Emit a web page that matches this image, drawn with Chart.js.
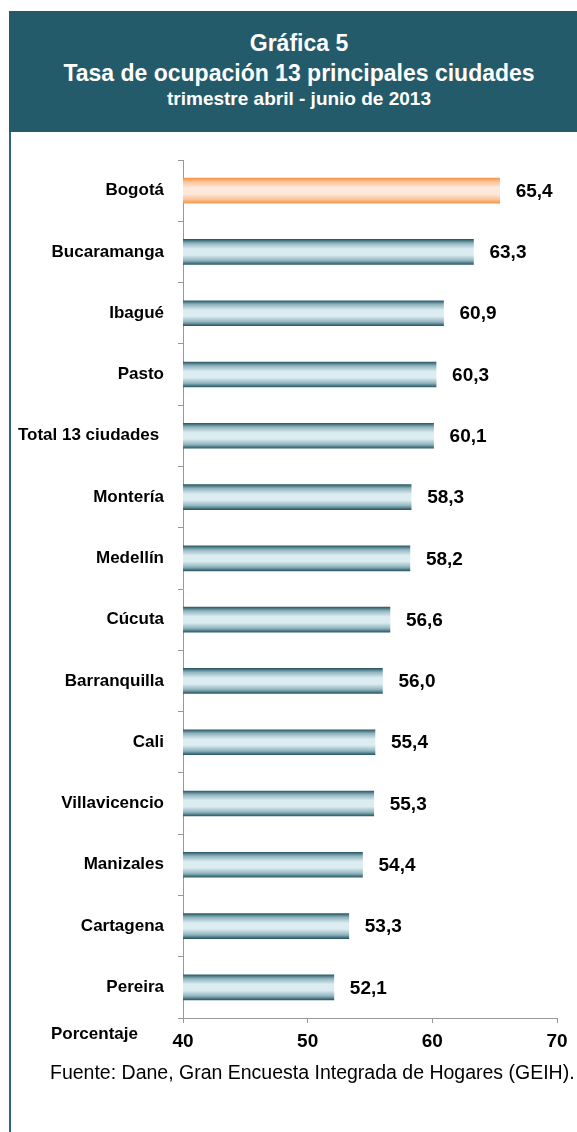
<!DOCTYPE html>
<html>
<head>
<meta charset="utf-8">
<script src="https://cdn.jsdelivr.net/npm/chart.js@4/dist/chart.umd.min.js"></script>
<style>
  body { margin: 0; background: #fff; font-family: "Liberation Sans", Arial, sans-serif; }
  #cabecera { position: absolute; left: 9px; top: 11px; width: 568px; height: 121px; background: #245b6a; color: #fff; text-align: center; font-weight: bold; }
  #cabecera div { position: absolute; left: 12px; right: 0; white-space: nowrap; }
  #cabecera .l1 { top: 19px; font-size: 23px; }
  #cabecera .l2 { top: 49px; font-size: 23px; }
  #cabecera .l3 { top: 77px; font-size: 19px; }
  #borde { position: absolute; left: 9px; top: 132px; width: 2px; height: 1000px; background: #2e6878; }
  #caja { position: absolute; left: 0; top: 132px; width: 577px; height: 1000px; }
  #porcentaje { position: absolute; left: 51px; top: 1024px; font-size: 17px; font-weight: bold; }
  #fuente { position: absolute; left: 50px; top: 1061px; font-size: 19.5px; white-space: nowrap; }
</style>
</head>
<body>
<div id="cabecera">
  <div class="l1">Gráfica 5</div>
  <div class="l2">Tasa de ocupación 13 principales ciudades</div>
  <div class="l3">trimestre abril - junio de 2013</div>
</div>
<div id="borde"></div>
<div id="caja"><canvas id="grafica"></canvas></div>
<div id="porcentaje">Porcentaje</div>
<div id="fuente">Fuente: Dane, Gran Encuesta Integrada de Hogares (GEIH).</div>
<script>
// ciudades y tasa de ocupacion (%)
var ciudades = ["Bogotá", "Bucaramanga", "Ibagué", "Pasto", "Total 13 ciudades ", "Montería", "Medellín",
  "Cúcuta", "Barranquilla", "Cali", "Villavicencio", "Manizales", "Cartagena", "Pereira"];
var tasas = [65.4, 63.3, 60.9, 60.3, 60.1, 58.3, 58.2, 56.6, 56.0, 55.4, 55.3, 54.4, 53.3, 52.1];
var ticksX = [40, 50, 60, 70];

var fuente = '"Liberation Sans", Arial, sans-serif';

// degradado vertical de cada barra (Bogota en naranja)
function degradado(context) {
  var chart = context.chart;
  if (!chart.chartArea || context.dataIndex === undefined) return "#6f97a3";
  var y = chart.scales.y.getPixelForValue(context.dataIndex);
  var g = chart.ctx.createLinearGradient(0, y - 12.5, 0, y + 12.5);
  var oscuro = context.dataIndex === 0 ? "#f79646" : "#2a5a68";
  var medio = context.dataIndex === 0 ? "#fbc49a" : "#8fb3bd";
  var claro = context.dataIndex === 0 ? "#fde9dc" : "#dcedf2";
  g.addColorStop(0, oscuro);
  g.addColorStop(0.15, medio);
  g.addColorStop(0.38, claro);
  g.addColorStop(0.62, claro);
  g.addColorStop(0.85, medio);
  g.addColorStop(1, oscuro);
  return g;
}

// etiquetas con el valor al final de cada barra
var etiquetas = {
  id: "etiquetas",
  afterDatasetsDraw: function (chart) {
    var ctx = chart.ctx;
    var meta = chart.getDatasetMeta(0);
    ctx.save();
    ctx.font = "bold 19px " + fuente;
    ctx.fillStyle = "#000";
    ctx.textAlign = "left";
    ctx.textBaseline = "middle";
    meta.data.forEach(function (bar, i) {
      ctx.fillText(tasas[i].toFixed(1).replace(".", ","), bar.x + 16, bar.y + 1);
    });
    ctx.restore();
  }
};

var grafica = new Chart(document.getElementById("grafica"), {
  type: "bar",
  data: {
    labels: ciudades,
    datasets: [{
      data: tasas,
      backgroundColor: degradado,
      borderWidth: 0,
      barThickness: 25
    }]
  },
  options: {
    indexAxis: "y",
    responsive: true,
    maintainAspectRatio: false,
    animation: false,
    layout: { padding: { top: 28, right: 20, left: 0, bottom: 0 } },
    plugins: { legend: { display: false }, tooltip: { enabled: false } },
    scales: {
      x: {
        min: 40,
        max: 70,
        afterFit: function (s) { s.height = 114; },
        afterBuildTicks: function (s) { s.ticks = ticksX.map(function (v) { return { value: v }; }); },
        grid: { drawOnChartArea: false, drawTicks: true, tickLength: 5, color: "#999" },
        border: { display: true, color: "#999" },
        ticks: { color: "#000", padding: 7, font: { family: fuente, size: 19, weight: "bold" } }
      },
      y: {
        afterFit: function (s) { s.width = 183; },
        grid: { drawOnChartArea: false, drawTicks: true, tickLength: 5, color: "#999", offset: true },
        border: { display: true, color: "#999" },
        ticks: { color: "#000", padding: 14, font: { family: fuente, size: 17, weight: "bold" } }
      }
    }
  },
  plugins: [etiquetas]
});
</script>
</body>
</html>
